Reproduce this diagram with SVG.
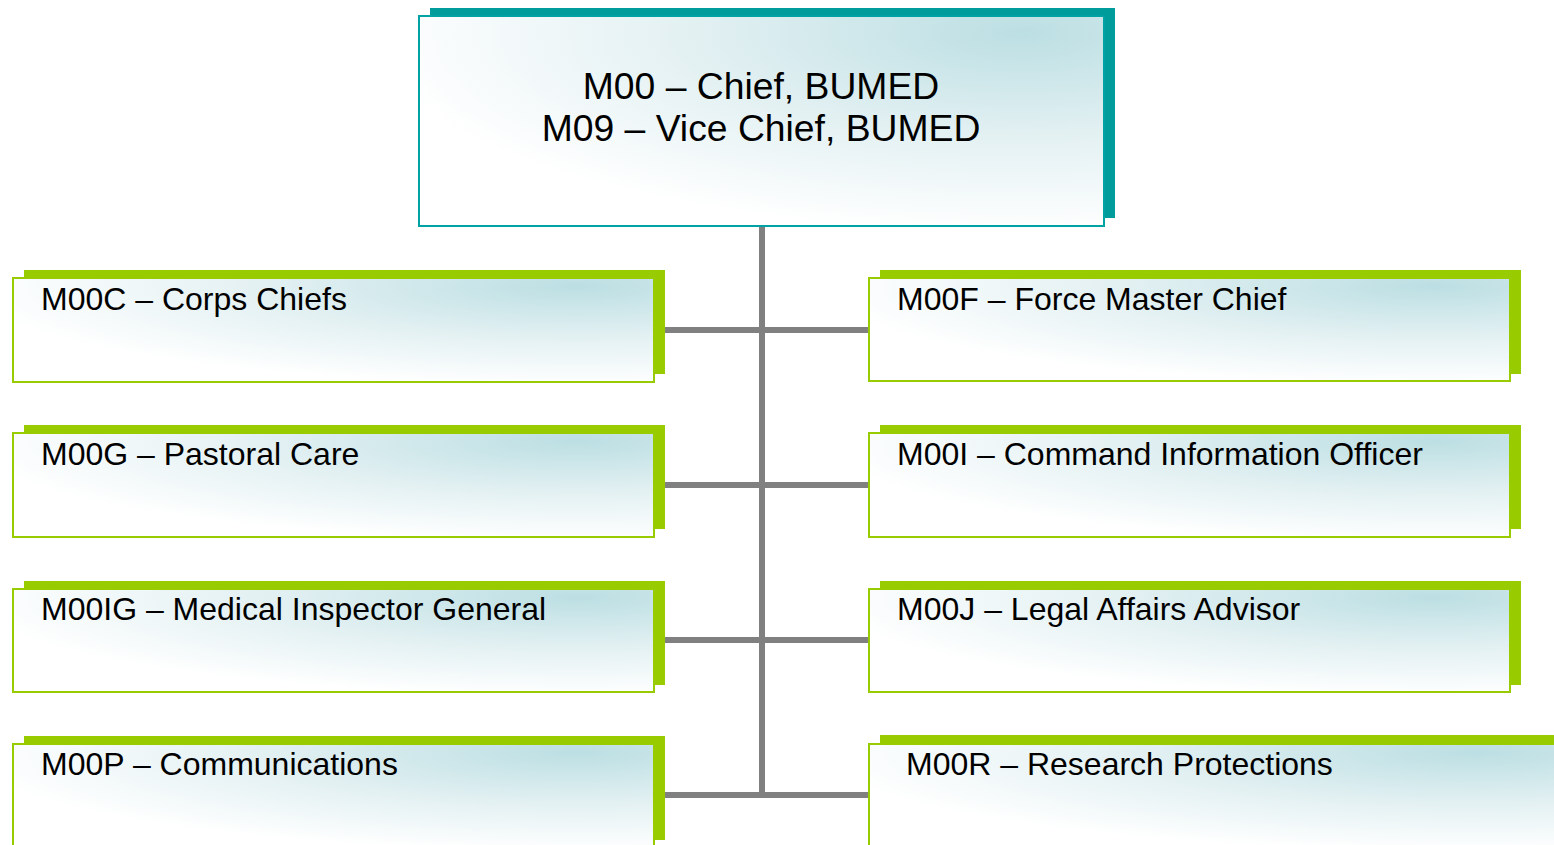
<svg xmlns="http://www.w3.org/2000/svg" width="1554" height="845" viewBox="0 0 1554 845">
<defs>
<radialGradient id="g" cx="0.88" cy="0.08" r="0.95" fx="0.88" fy="0.08">
<stop offset="0" stop-color="#bcdfe3"/>
<stop offset="0.5" stop-color="#e2f0f2"/>
<stop offset="1" stop-color="#ffffff"/>
</radialGradient>
</defs>
<style>
.sh{fill:#99cc00}
.bx{fill:url(#g);stroke:#99cc00;stroke-width:2}
.tsh{fill:#009b9b}
.tbx{fill:url(#g);stroke:#00a3a3;stroke-width:2}
.t{font-family:"Liberation Sans",Arial,sans-serif;font-size:32px;fill:#000}
.tt{font-family:"Liberation Sans",Arial,sans-serif;font-size:37.3px;fill:#000;text-anchor:middle}
.c{stroke:#808080;stroke-width:6;fill:none}
</style>
<rect width="1554" height="845" fill="#ffffff"/>
<g id="connectors">
<line class="c" x1="762" y1="226" x2="762" y2="798"/>
<line class="c" x1="665" y1="330" x2="869" y2="330"/>
<line class="c" x1="665" y1="485" x2="869" y2="485"/>
<line class="c" x1="665" y1="640" x2="869" y2="640"/>
<line class="c" x1="665" y1="795" x2="869" y2="795"/>
</g>
<g id="top">
<rect class="tsh" x="430" y="8" width="685" height="210"/>
<rect class="tbx" x="419" y="16" width="685" height="210"/>
<text class="tt" x="761" y="99">M00 – Chief, BUMED</text>
<text class="tt" x="761" y="141">M09 – Vice Chief, BUMED</text>
</g>
<g id="m00c">
<rect class="sh" x="24" y="270" width="641" height="104"/>
<rect class="bx" x="13" y="278" width="641" height="104"/>
<text class="t" x="41" y="310">M00C – Corps Chiefs</text>
</g>
<g id="m00f">
<rect class="sh" x="880" y="270" width="641" height="104"/>
<rect class="bx" x="869" y="278" width="641" height="103"/>
<text class="t" x="897" y="310">M00F – Force Master Chief</text>
</g>
<g id="m00g">
<rect class="sh" x="24" y="425" width="641" height="104"/>
<rect class="bx" x="13" y="433" width="641" height="104"/>
<text class="t" x="41" y="465">M00G – Pastoral Care</text>
</g>
<g id="m00i">
<rect class="sh" x="880" y="425" width="641" height="104"/>
<rect class="bx" x="869" y="433" width="641" height="104"/>
<text class="t" x="897" y="465">M00I – Command Information Officer</text>
</g>
<g id="m00ig">
<rect class="sh" x="24" y="581" width="641" height="104"/>
<rect class="bx" x="13" y="589" width="641" height="103"/>
<text class="t" x="41" y="620">M00IG – Medical Inspector General</text>
</g>
<g id="m00j">
<rect class="sh" x="880" y="581" width="641" height="104"/>
<rect class="bx" x="869" y="589" width="641" height="103"/>
<text class="t" x="897" y="620">M00J – Legal Affairs Advisor</text>
</g>
<g id="m00p">
<rect class="sh" x="24" y="736" width="641" height="104"/>
<rect class="bx" x="13" y="744" width="641" height="104"/>
<text class="t" x="41" y="775">M00P – Communications</text>
</g>
<g id="m00r">
<rect class="sh" x="880" y="735" width="700" height="104"/>
<rect class="bx" x="869" y="744" width="690" height="104"/>
<text class="t" x="906" y="775">M00R – Research Protections</text>
</g>
</svg>
